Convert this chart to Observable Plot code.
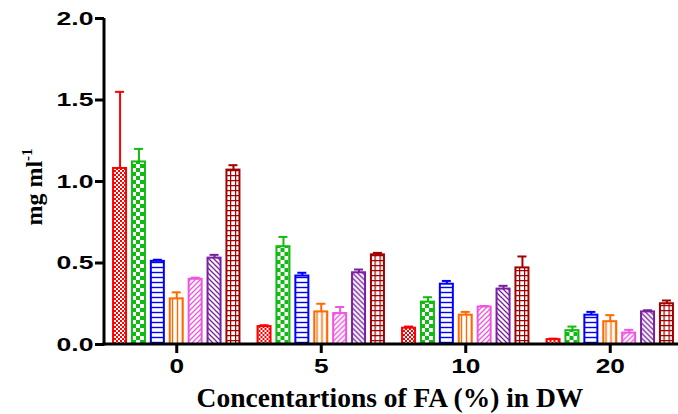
<!DOCTYPE html>
<html><head><meta charset="utf-8">
<script src="https://cdn.jsdelivr.net/npm/d3@7"></script>
<script src="https://cdn.jsdelivr.net/npm/@observablehq/plot@0.6"></script>
<style>
body{margin:0;background:#fff}
#chart svg g[aria-label^="y-axis"] line,#chart svg g[aria-label^="y-axis"] path,
#chart svg g[aria-label^="fx-axis"] line,#chart svg g[aria-label^="fx-axis"] path{stroke:#000;stroke-width:3px}
#chart svg g[aria-label^="y-axis"] text{font-family:"Liberation Sans",Arial,sans-serif;font-weight:bold;font-size:19px;fill:#000}
#chart svg g[aria-label^="fx-axis"] text{font-family:"Liberation Sans",Arial,sans-serif;font-weight:bold;font-size:21px;fill:#000}
</style></head><body><div id="chart"></div>
<script>
// categories (concentrations of FA, %)
const concentrations = ["0", "5", "10", "20"];
// seven series (no legend in the original)
const seriesNames = ["S1", "S2", "S3", "S4", "S5", "S6", "S7"];
const seriesColors = ["#ff0000", "#11bb11", "#0000ff", "#ff6a00", "#f055e0", "#7a1fa0", "#a30000"];
// means per series across concentrations
const s1Mean = [1.08, 0.11, 0.10, 0.03];
const s2Mean = [1.12, 0.60, 0.26, 0.085];
const s3Mean = [0.51, 0.42, 0.37, 0.18];
const s4Mean = [0.28, 0.20, 0.18, 0.14];
const s5Mean = [0.40, 0.19, 0.23, 0.07];
const s6Mean = [0.53, 0.44, 0.34, 0.20];
const s7Mean = [1.07, 0.55, 0.47, 0.25];
// upper error (SD) per series
const s1Err = [0.47, 0.008, 0.01, 0.006];
const s2Err = [0.08, 0.06, 0.03, 0.025];
const s3Err = [0.01, 0.02, 0.02, 0.02];
const s4Err = [0.04, 0.05, 0.02, 0.04];
const s5Err = [0.01, 0.04, 0.006, 0.02];
const s6Err = [0.02, 0.02, 0.02, 0.01];
const s7Err = [0.03, 0.012, 0.07, 0.02];
const yTicks = [0, 0.5, 1.0, 1.5, 2.0];

const allMeans = [s1Mean, s2Mean, s3Mean, s4Mean, s5Mean, s6Mean, s7Mean];
const allErrs = [s1Err, s2Err, s3Err, s4Err, s5Err, s6Err, s7Err];
const rows = [];
concentrations.forEach((c, ci) => {
  seriesNames.forEach((s, si) => {
    rows.push({conc: c, series: s, idx: si, color: seriesColors[si],
      value: allMeans[si][ci], top: allMeans[si][ci] + allErrs[si][ci]});
  });
});

const W = 678, H = 414, ML = 104;
const plot = Plot.plot({
  width: W, height: H,
  marginLeft: ML, marginRight: -4, marginTop: 18, marginBottom: 70,
  facet: {data: rows, x: "conc"},
  fx: {domain: concentrations, padding: 0, round: false, tickSize: 9, tickPadding: 5, label: null},
  x: {domain: seriesNames, paddingInner: 0.312, paddingOuter: 0.479, round: false, axis: null},
  y: {domain: [0, 2], ticks: yTicks, tickFormat: d3.format(".1f"), tickSize: 9, tickPadding: 2, label: null},
  color: {type: "identity"},
  marks: [
    Plot.ruleX(rows, {x: "series", y1: "value", y2: "top", stroke: "color", strokeWidth: 2}),
    Plot.tickY(rows, {x: "series", y: "top", stroke: "color", strokeWidth: 2, insetLeft: 2, insetRight: 2}),
    Plot.barY(rows, {x: "series", y: "value", fill: d => `url(#pat${d.idx})`, stroke: "color", strokeWidth: 2})
  ]
});

const svg = d3.select(plot);
const defs = svg.insert("defs", ":first-child");
function pat(id, size, draw) {
  const p = defs.append("pattern").attr("id", id).attr("patternUnits", "userSpaceOnUse")
    .attr("width", size).attr("height", size);
  p.append("rect").attr("width", size).attr("height", size).attr("fill", "#fff");
  draw(p);
}
pat("pat0", 4, p => { p.append("rect").attr("width", 2).attr("height", 2).attr("fill", seriesColors[0]);
  p.append("rect").attr("x", 2).attr("y", 2).attr("width", 2).attr("height", 2).attr("fill", seriesColors[0]); });
pat("pat1", 8, p => { p.append("rect").attr("width", 4).attr("height", 4).attr("fill", seriesColors[1]);
  p.append("rect").attr("x", 4).attr("y", 4).attr("width", 4).attr("height", 4).attr("fill", seriesColors[1]); });
pat("pat2", 5, p => { p.append("line").attr("x1", 0).attr("x2", 5).attr("y1", 2.5).attr("y2", 2.5)
  .attr("stroke", seriesColors[2]).attr("stroke-width", 1.4); });
pat("pat3", 5, p => { p.append("line").attr("y1", 0).attr("y2", 5).attr("x1", 2.5).attr("x2", 2.5)
  .attr("stroke", seriesColors[3]).attr("stroke-width", 1.4); });
pat("pat4", 5, p => { p.append("path").attr("d", "M0,5L5,0M-1,1L1,-1M4,6L6,4")
  .attr("stroke", seriesColors[4]).attr("stroke-width", 1.3); });
pat("pat5", 5, p => { p.append("path").attr("d", "M0,0L5,5M-1,4L1,6M4,-1L6,1")
  .attr("stroke", seriesColors[5]).attr("stroke-width", 1.3); });
pat("pat6", 5, p => { p.append("path").attr("d", "M0,0.6H5M0.6,0V5")
  .attr("stroke", seriesColors[6]).attr("stroke-width", 1.3); });

// widen the tick label glyphs like the original
svg.selectAll('g[aria-label^="y-axis"] text').each(function() {
  const t = d3.select(this); t.attr("transform", (t.attr("transform") || "") + " scale(1.4,1)");
});
svg.selectAll('g[aria-label^="fx-axis"] text').each(function() {
  const t = d3.select(this); t.attr("transform", (t.attr("transform") || "") + " scale(1.25,1)");
});

// axis lines through the plot's own scales
const ys = plot.scale("y");
const y0 = ys.apply(0), y2 = ys.apply(2);
svg.append("line").attr("x1", ML).attr("x2", ML).attr("y1", y2).attr("y2", y0 + 1.5)
  .attr("stroke", "#000").attr("stroke-width", 3);
svg.append("line").attr("x1", ML - 1.5).attr("x2", W).attr("y1", y0).attr("y2", y0)
  .attr("stroke", "#000").attr("stroke-width", 3);

// axis titles
const yl = svg.append("text").attr("transform", `translate(42,${(y0 + y2) / 2 + 6}) rotate(-90)`)
  .attr("text-anchor", "middle").attr("font-family", "'Liberation Serif','Times New Roman',serif")
  .attr("font-weight", "bold").attr("font-size", 24).attr("fill", "#000");
yl.append("tspan").text("mg ml");
yl.append("tspan").attr("dy", -10).attr("font-size", 15).text("-1");
svg.append("text").attr("x", 390).attr("y", 407).attr("text-anchor", "middle")
  .attr("font-family", "'Liberation Serif','Times New Roman',serif").attr("font-weight", "bold")
  .attr("font-size", 27.5).attr("fill", "#000").text("Concentartions of FA (%) in DW");

document.getElementById("chart").appendChild(plot);
</script></body></html>
